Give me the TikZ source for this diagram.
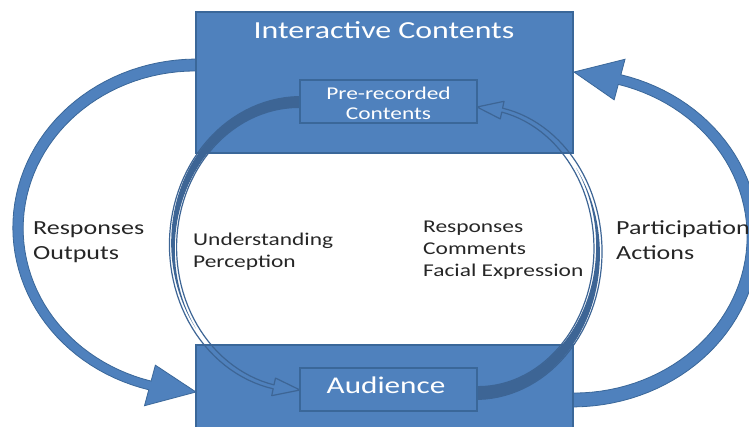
\documentclass[tikz,border=0pt]{standalone}
\usepackage{fontspec}
\setmainfont{Carlito}[FakeStretch=1.3]
\definecolor{boxfill}{HTML}{4F81BD}
\definecolor{boxline}{HTML}{3A6799}
\definecolor{arcdark}{HTML}{3D6595}
\begin{document}
\begin{tikzpicture}[x=1pt,y=-1pt,
  bigbox/.style={draw=boxline, fill=boxfill, line width=1.5pt, rectangle, inner sep=0pt},
  smallbox/.style={draw=boxline, fill=boxfill, line width=1.3pt, rectangle, inner sep=0pt, minimum width=177pt, minimum height=43pt},
  outerarrow/.style={fill=boxfill, draw=boxline, line width=0.8pt},
  innerline/.style={draw=arcdark, line width=1.2pt, line join=round},
  innerfill/.style={fill=arcdark},
  wlabel/.style={text=white, inner sep=0pt},
  blabel/.style={text=black!85, inner sep=0pt, anchor=base west, align=left},
]
\useasboundingbox (0,0) rectangle (749,427);
\clip (0,0) rectangle (749,427);

% outer left arrow
\draw[outerarrow] plot[domain=85:255, samples=60] ({196+(178+6-1.5*(\x-85)/170)*cos(\x)}, {228-(163+6-1.5*(\x-85)/170)*sin(\x)})
 -- ({196+(178+21)*cos(255)}, {228-(163+21)*sin(255)})
 -- (196,392) coordinate (lt)
 -- ({196+(178-21)*cos(255)}, {228-(163-21)*sin(255)})
 -- plot[domain=255:85, samples=60] ({196+(178-6+1.5*(\x-85)/170)*cos(\x)}, {228-(163-6+1.5*(\x-85)/170)*sin(\x)})
 -- cycle;

% outer right arrow
\draw[outerarrow] plot[domain=-95:75, samples=60] ({573+(180+7-2*(\x+95)/170)*cos(\x)}, {237-(163+7-2*(\x+95)/170)*sin(\x)})
 -- ({573+(180+21)*cos(75)}, {237-(163+21)*sin(75)})
 -- (574,72) coordinate (rt)
 -- ({573+(180-21)*cos(75)}, {237-(163-21)*sin(75)})
 -- plot[domain=75:-95, samples=60] ({573+(180-7+2*(\x+95)/170)*cos(\x)}, {237-(163-7+2*(\x+95)/170)*sin(\x)})
 -- cycle;

% big boxes
\node[bigbox, minimum width=377pt, minimum height=141pt] (ic) at (384.5,82.5) {};
\node[bigbox, minimum width=377pt, minimum height=100pt] (au) at (384.5,395) {};

% inner left arc
\fill[innerfill] plot[domain=85:215, samples=50] ({300+(127+(5.5-3*(\x-85)/173)*(1-((\x-85)/130)^2))*cos(\x)}, {246-(144+(5.5-3*(\x-85)/173)*(1-((\x-85)/130)^2))*sin(\x)})
 -- plot[domain=215:85, samples=50] ({300+(127-(5.5-3*(\x-85)/173)*(1-((\x-85)/130)^2))*cos(\x)}, {246-(144-(5.5-3*(\x-85)/173)*(1-((\x-85)/130)^2))*sin(\x)})
 -- cycle;
\draw[innerline] plot[domain=85:258, samples=60] ({300+(127+5.5-3.5*(\x-85)/173)*cos(\x)}, {246-(144+5.5-3.5*(\x-85)/173)*sin(\x)})
 -- ({300+(127+9)*cos(258)}, {246-(144+9)*sin(258)})
 -- (300,390) coordinate (ilt)
 -- ({300+(127-9)*cos(258)}, {246-(144-9)*sin(258)})
 -- plot[domain=258:85, samples=60] ({300+(127-5.5+3.5*(\x-85)/173)*cos(\x)}, {246-(144-5.5+3.5*(\x-85)/173)*sin(\x)})
 -- cycle;

% inner right arc
\fill[innerfill] plot[domain=-95:35, samples=50] ({477+(121+(6.5-4.5*(\x+95)/173)*(1-((\x+95)/130)^2))*cos(\x)}, {250-(143+(6.5-4.5*(\x+95)/173)*(1-((\x+95)/130)^2))*sin(\x)})
 -- plot[domain=35:-95, samples=50] ({477+(121-(6.5-4.5*(\x+95)/173)*(1-((\x+95)/130)^2))*cos(\x)}, {250-(143-(6.5-4.5*(\x+95)/173)*(1-((\x+95)/130)^2))*sin(\x)})
 -- cycle;
\draw[innerline] plot[domain=-95:78, samples=60] ({477+(121+6.5-4.5*(\x+95)/173)*cos(\x)}, {250-(143+6.5-4.5*(\x+95)/173)*sin(\x)})
 -- ({477+(121+9)*cos(78)}, {250-(143+9)*sin(78)})
 -- (477,107) coordinate (irt)
 -- ({477+(121-9)*cos(78)}, {250-(143-9)*sin(78)})
 -- plot[domain=78:-95, samples=60] ({477+(121-6.5+4.5*(\x+95)/173)*cos(\x)}, {250-(143-6.5+4.5*(\x+95)/173)*sin(\x)})
 -- cycle;

% small boxes
\node[smallbox] (pre) at (388.5,101.5) {};
\node[smallbox] (aud) at (388.5,389.5) {};

% white labels
\node[wlabel, anchor=base, font=\fontsize{24.5}{28}\selectfont] (ict) at (384,39) {Interactive Contents};
\node[wlabel, anchor=center, align=center, font=\fontsize{18}{20}\selectfont] (prt) at (388.5,103) {Pre-recorded\\Contents};
\node[wlabel, anchor=base, font=\fontsize{24}{28}\selectfont] (aut) at (386,393) {Audience};

% black labels (base anchor = baseline of last line)
\node[blabel, font=\fontsize{20}{25}\selectfont] (ro) at (33,260) {Responses\\Outputs};
\node[blabel, font=\fontsize{18}{22}\selectfont] (up) at (193,268) {Understanding\\Perception};
\node[blabel, font=\fontsize{18}{22}\selectfont] (rc) at (423,277) {Responses\\Comments\\Facial Expression};
\node[blabel, font=\fontsize{20}{25}\selectfont] (pa) at (616,260) {Participation\\Actions};
\end{tikzpicture}
\end{document}
